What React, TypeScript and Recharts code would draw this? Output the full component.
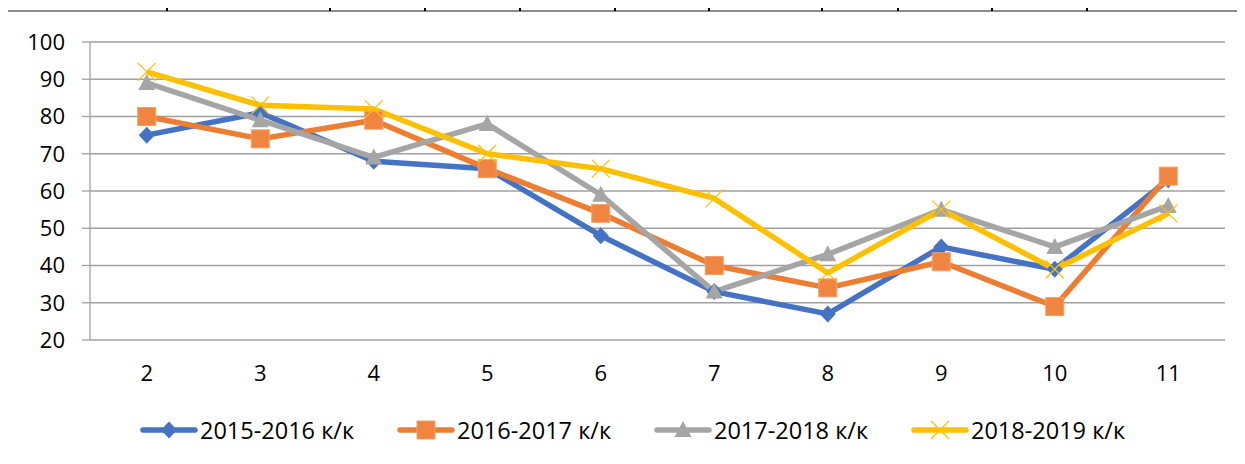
import React from 'react';
import { LineChart, Line, XAxis, YAxis, CartesianGrid, Legend } from 'recharts';

const grades = ['2', '3', '4', '5', '6', '7', '8', '9', '10', '11'];
const s1516 = [75, 81, 68, 66, 48, 33, 27, 45, 39, 63];
const s1617 = [80, 74, 79, 66, 54, 40, 34, 41, 29, 64];
const s1718 = [89, 79, 69, 78, 59, 33, 43, 55, 45, 56];
const s1819 = [92, 83, 82, 70, 66, 58, 38, 55, 39, 54];
const yTicks = [20, 30, 40, 50, 60, 70, 80, 90, 100];
const seriesNames = ['2015-2016 к/к', '2016-2017 к/к', '2017-2018 к/к', '2018-2019 к/к'];
const tableLineXs = [167, 330, 425, 520, 615, 709, 822, 898, 992, 1087];

const data = grades.map((g, i) => ({
  pos: i + 0.5,
  grade: g,
  a: s1516[i],
  b: s1617[i],
  c: s1718[i],
  d: s1819[i],
}));

const labelTicks = grades.map((_, i) => i + 0.5);
const boundaryTicks = [...grades.map((_, i) => i), grades.length];

const BLUE = '#4472C4';
const ORANGE = '#ED7D31';
const GRAY = '#A5A5A5';
const YELLOW = '#FFC000';
const FONT = '"Open Sans", "Noto Sans", sans-serif';

const Diamond = ({ cx, cy }: any) => (
  <path d={`M${cx},${cy - 8.5} L${cx + 8},${cy} L${cx},${cy + 8.5} L${cx - 8},${cy} Z`} fill={BLUE} />
);
const Square = ({ cx, cy }: any) => (
  <rect x={cx - 9} y={cy - 9} width={18} height={18} fill="#EF8540" stroke="#F3A06A" strokeWidth={1} />
);
const Triangle = ({ cx, cy }: any) => (
  <path d={`M${cx},${cy - 9} L${cx + 8.5},${cy + 7} L${cx - 8.5},${cy + 7} Z`} fill={GRAY} />
);
const Cross = ({ cx, cy }: any) => (
  <g stroke={YELLOW} strokeWidth={1.2}>
    <line x1={cx - 9} y1={cy - 9} x2={cx + 9} y2={cy + 9} />
    <line x1={cx - 9} y1={cy + 9} x2={cx + 9} y2={cy - 9} />
  </g>
);

const markers = [Diamond, Square, Triangle, Cross];
const colors = [BLUE, ORANGE, GRAY, YELLOW];

const LegendContent = () => (
  <div style={{ display: 'flex', paddingLeft: 140, height: 36, alignItems: 'center', fontFamily: FONT, fontSize: 23.5, color: '#000' }}>
    {seriesNames.map((name, i) => {
      const M = markers[i];
      return (
        <div key={name} style={{ width: 257, display: 'flex', alignItems: 'center' }}>
          <svg width={58} height={24} style={{ marginRight: 2 }}>
            <line x1={3} y1={12} x2={55} y2={12} stroke={colors[i]} strokeWidth={5.5} strokeLinecap="round" />
            <M cx={29} cy={12} />
          </svg>
          <span style={{ whiteSpace: 'nowrap' }}>{name}</span>
        </div>
      );
    })}
  </div>
);

export default function App() {
  const keys = ['a', 'b', 'c', 'd'];
  return (
    <div style={{ position: 'relative', width: 1245, height: 464, margin: -8, background: '#fff', overflow: 'hidden' }}>
      <div style={{ position: 'absolute', left: 5, top: 10, width: 1240, height: 2, background: '#8c8c8c' }} />
      <div style={{ position: 'absolute', left: 5, top: 10, width: 2, height: 460, background: '#8c8c8c' }} />
      <div style={{ position: 'absolute', left: 0, top: 0 }}>
        <LineChart width={1245} height={464} data={data} margin={{ top: 42, right: 20, left: 30, bottom: 43 }}>
          <CartesianGrid vertical={false} stroke="#a0a0a0" strokeWidth={1.3} xAxisId="tk" />
          <XAxis
            xAxisId="tk"
            type="number"
            domain={[0, grades.length]}
            ticks={boundaryTicks}
            interval={0}
            tick={false}
            tickSize={8}
            height={0}
            stroke="#a0a0a0"
            strokeWidth={1.3}
          />
          <XAxis
            xAxisId="lbl"
            dataKey="pos"
            type="number"
            domain={[0, grades.length]}
            ticks={labelTicks}
            interval={0}
            tickFormatter={(v: number) => grades[Math.floor(v)]}
            tickLine={false}
            axisLine={false}
            tickSize={8}
            tickMargin={17}
            height={45}
            tick={{ fontSize: 22, fill: '#000', fontFamily: FONT }}
          />
          <YAxis
            type="number"
            domain={[20, 100]}
            ticks={yTicks}
            interval={0}
            width={60}
            tickSize={8}
            tickMargin={17}
            stroke="#a0a0a0"
            strokeWidth={1.3}
            tick={{ fontSize: 22, fill: '#000', fontFamily: FONT }}
          />
          <Legend
            verticalAlign="bottom"
            content={() => <LegendContent />}
            wrapperStyle={{ position: 'absolute', left: 0, top: 412, width: 1245, height: 36 }}
          />
          {keys.map((k, i) => {
            const M = markers[i];
            return (
              <Line
                key={k}
                xAxisId="lbl"
                dataKey={k}
                name={seriesNames[i]}
                stroke={colors[i]}
                strokeWidth={5.5}
                strokeLinejoin="round"
                isAnimationActive={false}
                dot={(p: any) => <M key={`${k}-${p.index}`} cx={p.cx} cy={p.cy} />}
                activeDot={false}
              />
            );
          })}
        </LineChart>
      </div>
      {tableLineXs.map((x) => (
        <div key={x} style={{ position: 'absolute', left: x - 1, top: 0, width: 2, height: 11, background: '#000', zIndex: 5 }} />
      ))}
    </div>
  );
}
